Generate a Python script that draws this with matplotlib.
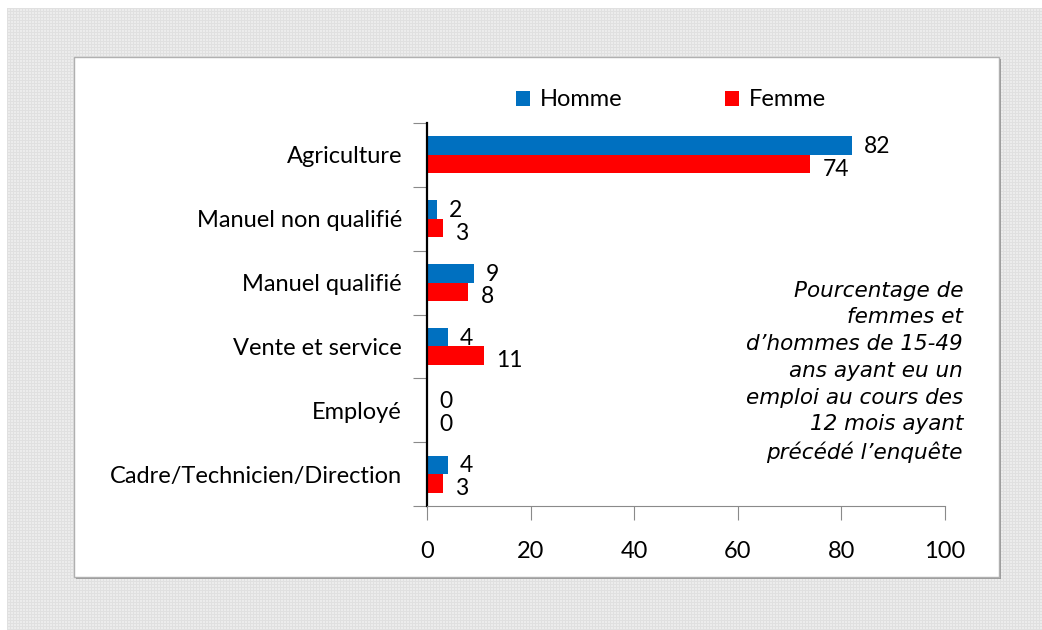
import numpy as np
import matplotlib.pyplot as plt
from matplotlib.patches import Rectangle

# data
categories = ['Agriculture', 'Manuel non qualifié', 'Manuel qualifié',
              'Vente et service', 'Employé', 'Cadre/Technicien/Direction']
homme = [82, 2, 9, 4, 0, 4]
femme = [74, 3, 8, 11, 0, 3]
xticks = [0, 20, 40, 60, 80, 100]
note = ("Pourcentage de\nfemmes et\nd\u2019hommes de 15-49\nans ayant eu un\n"
        "emploi au cours des\n12 mois ayant\nprécédé l\u2019enquête")

plt.rcParams['font.family'] = ['Lato', 'DejaVu Sans']
W, H = 1042, 630
fig = plt.figure(figsize=(W/100, H/100), dpi=100)
fig.patch.set_facecolor('white')

#-----------------------------------------------------------------------------
# patterned grey background
bg = fig.add_axes([7/W, 0, (W-7)/W, (H-8)/H], zorder=0)
pat = np.full((H-8, W-7), 0.925)
pat[::3, :] = 0.875
pat[:, ::3] = 0.875
bg.imshow(pat, cmap='gray', vmin=0, vmax=1, interpolation='nearest', aspect='auto')
bg.axis('off')

# white panel with shadow
fig.patches.append(Rectangle((76/W, 1-579/H), 925/W, 520/H, transform=fig.transFigure,
                             facecolor='#9a9a9a', edgecolor='none', zorder=1))
fig.patches.append(Rectangle((74/W, 1-577/H), 925/W, 520/H, transform=fig.transFigure,
                             facecolor='white', edgecolor='#b0b0b0', lw=1, zorder=1))

#-----------------------------------------------------------------------------
ax = fig.add_axes([427/W, 1-506/H, 518/W, 383/H], zorder=2)
ax.patch.set_alpha(0)
y = np.arange(len(categories))
h = 0.29
b1 = ax.barh(y - h/2, homme, height=h, color='#0070C0', label='Homme')
b2 = ax.barh(y + h/2, femme, height=h, color='#FF0000', label='Femme')

for i in range(len(categories)):
    ax.annotate(str(homme[i]), (homme[i], y[i] - h/2), xytext=(12, -1),
                textcoords='offset pixels', va='center', ha='left', fontsize=16.5)
    ax.annotate(str(femme[i]), (femme[i], y[i] + h/2), xytext=(12, -5),
                textcoords='offset pixels', va='center', ha='left', fontsize=16.5)

ax.set_xlim(0, 100)
ax.set_ylim(len(categories) - 0.5, -0.5)
ax.set_xticks(xticks)
ax.set_xticklabels([str(t) for t in xticks], fontsize=17)
ax.tick_params(axis='x', length=10, color='#8a8a8a', pad=15)

ax.set_yticks(np.arange(len(categories) + 1) - 0.5)
ax.set_yticklabels([])
ax.set_yticks(y, minor=True)
ax.set_yticklabels(categories, minor=True, fontsize=17)
ax.tick_params(axis='y', which='major', length=10, color='#8a8a8a')
ax.tick_params(axis='y', which='minor', length=0, pad=18)

ax.spines['top'].set_visible(False)
ax.spines['right'].set_visible(False)
ax.spines['left'].set_color('black')
ax.spines['left'].set_linewidth(1.6)
ax.spines['bottom'].set_color('#8a8a8a')

fig.legend(handles=[b1, b2], loc='center', bbox_to_anchor=(671/W, 1-100/H), ncol=2,
           frameon=False, fontsize=17, handlelength=0.6, handleheight=0.6,
           handletextpad=0.45, columnspacing=4.3)

fig.text(963/W, 1-372/H, note, ha='right', va='center', style='italic',
         family='DejaVu Sans', fontsize=15.5, linespacing=1.42, zorder=3)

fig.savefig('out.png', dpi=100)
